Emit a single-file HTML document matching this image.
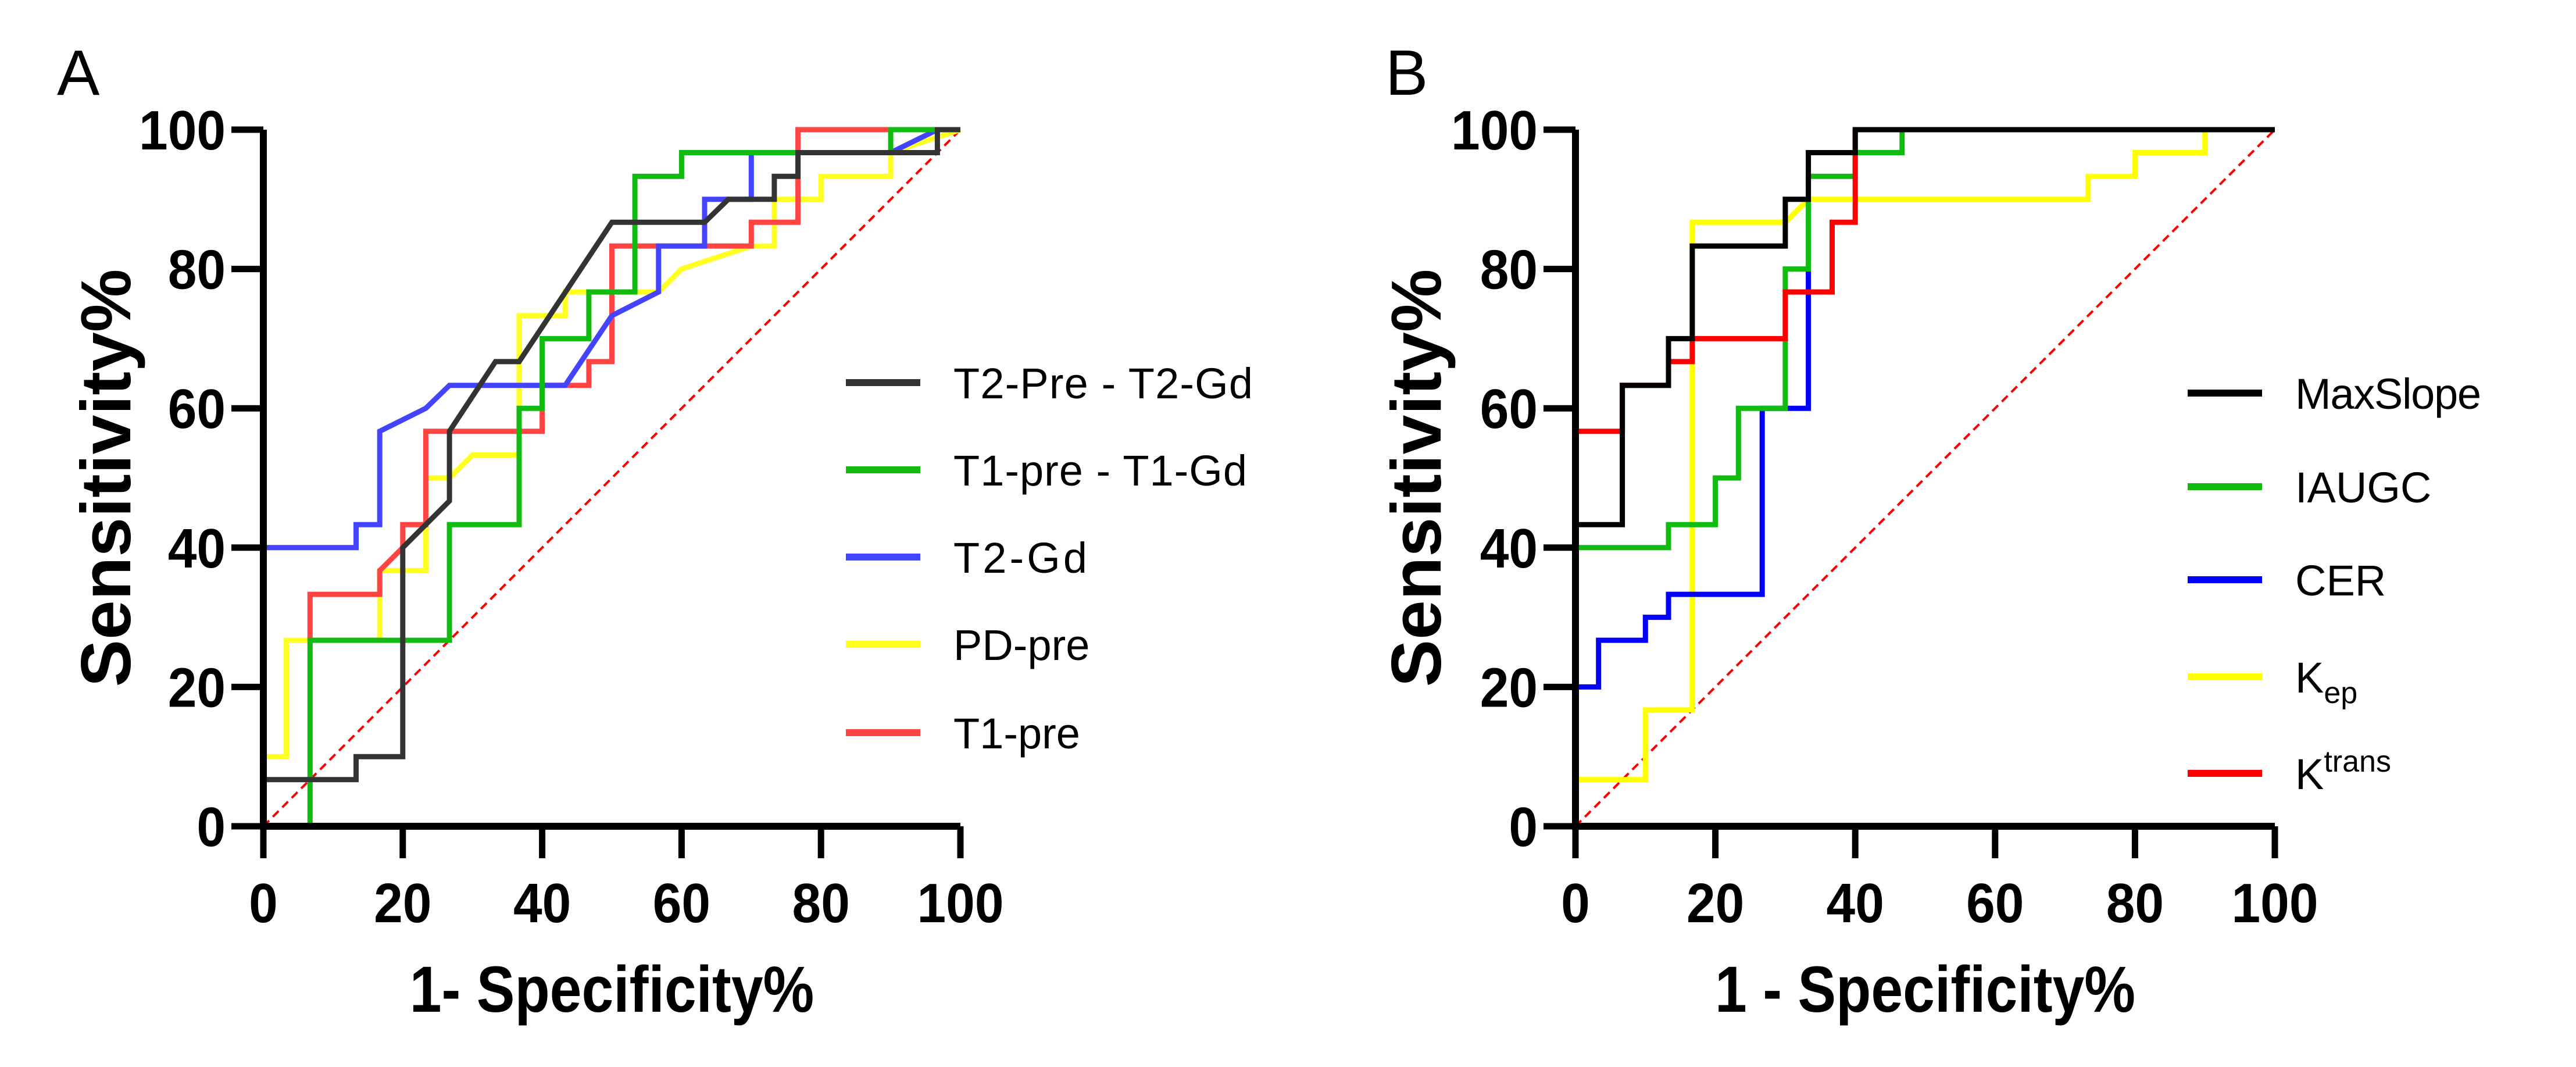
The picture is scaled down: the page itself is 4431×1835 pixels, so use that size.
<!DOCTYPE html>
<html><head><meta charset="utf-8"><style>
html,body{margin:0;padding:0;background:#fff;}
svg{display:block;}
text{font-family:"Liberation Sans",sans-serif;}
</style></head><body>
<svg id="fig" width="4431" height="1835" viewBox="0 0 4431 1835" xmlns="http://www.w3.org/2000/svg">
<rect width="4431" height="1835" fill="#fff"/>
<g id="panelA"></g>
<g id="panelB"></g>
</svg>
<script>
const ticks = [0,20,40,60,80,100];
const tickLabels = ["0","20","40","60","80","100"];
// Panel A series
const aNames = ["T2-Pre - T2-Gd","T1-pre - T1-Gd","T2-Gd","PD-pre","T1-pre"];
const aColors = ["#333333","#11bb11","#4444ff","#ffff22","#ff4444"];
const aBlackX = [0,0,13.3,13.3,20,20,26.7,26.7,33.3,36.7,50,63.3,66.7,73.3,73.3,76.7,76.7,96.7,96.7,100];
const aBlackY = [0,6.7,6.7,10,10,40,46.7,56.7,66.7,66.7,86.7,86.7,90,90,93.3,93.3,96.7,96.7,100,100];
const aGreenX = [0,6.7,6.7,26.7,26.7,36.7,36.7,40,40,46.7,46.7,53.3,53.3,60,60,90,90,100];
const aGreenY = [0,0,26.7,26.7,43.3,43.3,60,60,70,70,76.7,76.7,93.3,93.3,96.7,96.7,100,100];
const aBlueX = [0,0,13.3,13.3,16.7,16.7,23.3,26.7,43.3,50,56.7,56.7,63.3,63.3,70,70,90,96.7,100];
const aBlueY = [0,40,40,43.3,43.3,56.7,60,63.3,63.3,73.3,76.7,83.3,83.3,90,90,96.7,96.7,100,100];
const aYellowX = [0,0,3.3,3.3,16.7,16.7,23.3,23.3,26.7,30,36.7,36.7,43.3,43.3,56.7,60,70,73.3,73.3,80,80,90,90,100];
const aYellowY = [0,10,10,26.7,26.7,36.7,36.7,50,50,53.3,53.3,73.3,73.3,76.7,76.7,80,83.3,83.3,90,90,93.3,93.3,96.7,100];
const aRedX = [6.7,6.7,16.7,16.7,20,20,23.3,23.3,40,40,46.7,46.7,50,50,70,70,76.7,76.7,100];
const aRedY = [26.7,33.3,33.3,36.7,40,43.3,43.3,56.7,56.7,63.3,63.3,66.7,66.7,83.3,83.3,86.7,86.7,100,100];
// Panel B series
const bNames = ["MaxSlope","IAUGC","CER","Kep","Ktrans"];
const bColors = ["#000000","#11bb11","#0000ff","#ffff00","#ff0000"];
const bBlackX = [0,0,6.7,6.7,13.3,13.3,16.7,16.7,30,30,33.3,33.3,40,40,100];
const bBlackY = [0,43.3,43.3,63.3,63.3,70,70,83.3,83.3,90,90,96.7,96.7,100,100];
const bGreenX = [0,13.3,13.3,20,20,23.3,23.3,30,30,33.3,33.3,40,40,46.7,46.7];
const bGreenY = [40,40,43.3,43.3,50,50,60,60,80,80,93.3,93.3,96.7,96.7,100];
const bBlueX = [0,0,3.3,3.3,10,10,13.3,13.3,26.7,26.7,33.3,33.3];
const bBlueY = [0,20,20,26.7,26.7,30,30,33.3,33.3,60,60,80];
const bYellowX = [0,0,10,10,16.7,16.7,30,33.3,73.3,73.3,80,80,90,90];
const bYellowY = [0,6.7,6.7,16.7,16.7,86.7,86.7,90,90,93.3,93.3,96.7,96.7,100];
const bRedX = [0,0,6.7,6.7,13.3,13.3,16.7,16.7,30,30,36.7,36.7,40,40];
const bRedY = [43.3,56.7,56.7,63.3,63.3,66.7,66.7,70,70,76.7,76.7,86.7,86.7,100];

const NS = "http://www.w3.org/2000/svg";
function mk(tag, attrs, parent){
  const e = document.createElementNS(NS, tag);
  for (const k in attrs) e.setAttribute(k, attrs[k]);
  parent.appendChild(e); return e;
}
function panel(g, cfg){
  const sx = v => cfg.x0 + (cfg.x1 - cfg.x0) * v / 100;
  const sy = v => cfg.y0 - (cfg.y0 - cfg.y1) * v / 100;
  const L = mk("text",{x:cfg.letterX,y:163,"font-size":110,fill:"#000"},g);
  
  
  L.textContent = cfg.letter;
  const d = mk("line",{x1:sx(0),y1:sy(0),x2:sx(100),y2:sy(100),stroke:"#ff0000","stroke-width":4,"stroke-dasharray":"14,9"},g);
  
  
  cfg.order.forEach(i => {
    const xs = cfg.xs[i], ys = cfg.ys[i];
    const pts = xs.map((x,j)=> sx(x).toFixed(1)+","+sy(ys[j]).toFixed(1)).join(" ");
    const p = mk("polyline",{points:pts,fill:"none",stroke:cfg.colors[i],"stroke-width":9,"stroke-linejoin":"miter"},g);
    
    
  });
  const ax = mk("path",{d:`M${sx(0)},${sy(100)} V${sy(0)} H${sx(100)}`,fill:"none",stroke:"#000","stroke-width":12},g);
  
  
  ticks.forEach((t,j)=>{
    const ty = mk("line",{x1:sx(0)-55,y1:sy(t),x2:sx(0),y2:sy(t),stroke:"#000","stroke-width":11},g);
    
    
    const tx = mk("line",{x1:sx(t),y1:sy(0),x2:sx(t),y2:sy(0)+55,stroke:"#000","stroke-width":11},g);
    
    
    const yl = mk("text",{x:0,y:0,"font-size":96,"font-weight":"bold","text-anchor":"end",transform:`translate(${sx(0)-65},${sy(t)+34}) scale(0.93,1)`},g);
    
    
    yl.textContent = tickLabels[j];
    const xl = mk("text",{x:0,y:0,"font-size":96,"font-weight":"bold","text-anchor":"middle",transform:`translate(${sx(t)},${sy(0)+165}) scale(0.93,1)`},g);
    
    
    xl.textContent = tickLabels[j];
  });
  const yt = mk("text",{x:0,y:0,"font-size":122,"font-weight":"bold","text-anchor":"middle",transform:`translate(${cfg.yTitleX},${(sy(0)+sy(100))/2}) rotate(-90)`},g);
  
  
  yt.textContent = "Sensitivity%";
  const xt = mk("text",{x:0,y:0,"font-size":112,"font-weight":"bold","text-anchor":"middle",transform:`translate(${(sx(0)+sx(100))/2},${1740}) scale(0.88,1)`},g);
  
  
  xt.textContent = cfg.xTitle;
  cfg.names.forEach((n,i)=>{
    const ly = cfg.legY[i];
    const ll = mk("line",{x1:cfg.legX,y1:ly,x2:cfg.legX+128,y2:ly,stroke:cfg.colors[i],"stroke-width":12},g);
    
    
    const lt = mk("text",{x:cfg.legX+185,y:ly+27,"font-size":74,fill:"#000"},g);
    
    
    if (n === "Kep") {
      lt.textContent = "K";
      const s = mk("tspan",{"font-size":52,dy:18},lt); s.textContent = "ep";
    } else if (n === "Ktrans") {
      lt.textContent = "K";
      const s = mk("tspan",{"font-size":52,dy:-30},lt); s.textContent = "trans";
    } else {
      lt.textContent = n;
      if (cfg.legLen && cfg.legLen[i]) lt.setAttribute("textLength", cfg.legLen[i]);
    }
  });
}
panel(document.getElementById("panelA"), {
  letter:"A", letterX:98, x0:453, x1:1652, y0:1421, y1:223,
  xs:[aBlackX,aGreenX,aBlueX,aYellowX,aRedX], ys:[aBlackY,aGreenY,aBlueY,aYellowY,aRedY],
  colors:aColors, names:aNames, keys:["t2pre-t2gd","t1pre-t1gd","t2gd","pdpre","t1pre"],
  order:[3,4,2,1,0], yTitleX:224, xTitle:"1- Specificity%",
  legX:1455, legY:[658,808,958,1108,1260], legLen:[515,505,230,0,0]
});
panel(document.getElementById("panelB"), {
  letter:"B", letterX:2383, x0:2710, x1:3913, y0:1421, y1:223,
  xs:[bBlackX,bGreenX,bBlueX,bYellowX,bRedX], ys:[bBlackY,bGreenY,bBlueY,bYellowY,bRedY],
  colors:bColors, names:bNames, keys:["maxslope","iaugc","cer","kep","ktrans"],
  order:[3,2,1,4,0], yTitleX:2478, xTitle:"1 - Specificity%",
  legX:3763, legY:[676,837,997,1164,1330], legLen:[320,0,0,0,0]
});
</script>
</body></html>
